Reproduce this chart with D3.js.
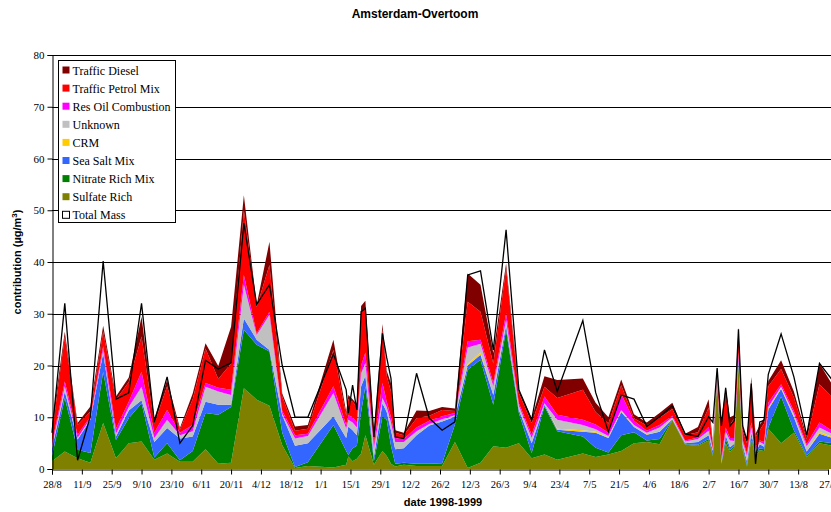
<!DOCTYPE html>
<html>
<head>
<meta charset="utf-8">
<script src="https://cdn.jsdelivr.net/npm/d3@7"></script>
<style>
  body { margin: 0; background: #fff; }
  svg { display: block; }
</style>
</head>
<body>
<svg id="chart" width="831" height="512"></svg>
<script>
// sample dates (Amsterdam-Overtoom, 1998-1999)
const dates = [
  "1998-08-28","1998-09-03","1998-09-09","1998-09-15","1998-09-21","1998-09-27","1998-10-03","1998-10-09",
  "1998-10-15","1998-10-21","1998-10-27","1998-11-02","1998-11-08","1998-11-14","1998-11-20","1998-11-26",
  "1998-12-02","1998-12-08","1998-12-14","1998-12-20","1998-12-26",
  "1999-01-07","1999-01-13","1999-01-14","1999-01-16","1999-01-18","1999-01-20","1999-01-22","1999-01-26","1999-01-30",
  "1999-02-01","1999-02-03","1999-02-05","1999-02-09","1999-02-15","1999-02-21","1999-02-27",
  "1999-03-05","1999-03-11","1999-03-17","1999-03-23","1999-03-29",
  "1999-04-04","1999-04-10","1999-04-16","1999-04-22",
  "1999-05-04","1999-05-10","1999-05-16","1999-05-22","1999-05-28",
  "1999-06-03","1999-06-09","1999-06-15","1999-06-21","1999-06-27",
  "1999-07-02","1999-07-04","1999-07-06","1999-07-08","1999-07-10","1999-07-12","1999-07-14","1999-07-16",
  "1999-07-18","1999-07-20","1999-07-22","1999-07-24","1999-07-26","1999-07-28","1999-07-30",
  "1999-08-05","1999-08-11","1999-08-17","1999-08-23","1999-08-29"
];

// source contributions, µg/m3
const sulfateRich = [
  1.5, 3.4, 2.1, 1.2, 8.9, 2.1, 5.0, 5.3, 1.8, 3.0, 1.4, 1.4, 3.8, 1.0, 1.2, 15.6, 13.4, 12.2, 4.6, 0.2, 0.6,
  0.3, 0.8, 2.4, 1.5, 2.0, 3.0, 6.5, 0.8, 3.5,
  2.5, 1.0, 0.5, 0.8, 0.6, 0.6, 0.6,
  5.2, 0.2, 1.2, 4.4, 4.1,
  5.0, 2.1, 2.8, 1.8,
  3.0, 2.3, 2.8, 3.5, 5.0,
  5.2, 4.8, 9.4, 4.7, 4.5,
  5.5, 2.5, 17.0, 1.0, 5.0, 3.3, 4.2, 20.0, 3.6, 0.5, 5.6, 2.5, 3.6, 3.5, 7.8,
  5.0, 7.0, 2.3, 5.0, 4.5
];
const nitrateRich = [
  1.0, 10.3, 1.6, 1.9, 9.9, 3.5, 4.8, 7.4, 0.4, 2.0, 0.3, 2.1, 7.0, 9.5, 10.8, 11.3, 10.6, 10.5, 2.4, 0.2, 0.7,
  8.2, 2.7, 0.3, 2.5, 2.5, 8.0, 9.5, 0.7, 6.6,
  7.0, 3.5, 0.5, 0.4, 0.4, 0.4, 0.5,
  3.4, 19.0, 19.9, 8.0, 22.8,
  5.8, 1.0, 9.3, 5.5,
  3.3, 1.8, 0.4, 3.0, 2.1,
  0.3, 1.0, 0.1, 0.1, 0.2,
  0.3, 0.3, 0.2, 0.1, 0.8, 0.3, 0.3, 0.3, 0.4, 0.3, 0.6, 0.3, 0.4, 0.3, 0.2,
  9.0, 0.5, 0.3, 0.3, 0.5
];
const seaSalt = [
  1.5, 1.3, 2.0, 6.4, 3.6, 0.7, 1.5, 0.6, 3.0, 2.9, 4.2, 2.8, 2.2, 1.9, 0.4, 2.2, 1.0, 0.3, 3.4, 4.1, 3.7,
  1.7, 2.5, 5.5, 3.5, 2.0, 5.0, 2.0, 0.8, 2.6,
  1.5, 3.0, 2.8, 2.8, 5.5, 7.4, 8.1,
  1.5, 0.8, 1.0, 1.9, 0.9,
  0.6, 1.9, 0.3, 0.3,
  0.9, 2.9, 2.8, 4.5, 1.0,
  1.1, 1.4, 0.1, 0.2, 0.5,
  0.7, 0.7, 0.3, 0.2, 0.7, 0.6, 0.4, 0.7, 0.6, 0.7, 0.8, 0.5, 0.8, 0.5, 3.5,
  1.5, 2.5, 0.8, 1.5, 1.0
];
const crm = [
  0, 0, 0, 0, 0, 0, 0, 0, 0, 0, 0, 0, 0, 0, 0, 0, 0, 0, 0, 0, 0,
  0, 0, 0, 0, 0, 0, 0, 0, 0,
  0, 0, 0, 0, 0, 0, 0,
  0, 0.3, 0.4, 0, 0,
  0, 0, 0, 0.2,
  0.3, 0.2, 0.1, 0.2, 0,
  0.1, 0, 0.1, 0, 0,
  0, 0, 0, 0, 0, 0, 0, 0, 0, 0, 0, 0, 0, 0, 0.3,
  0.2, 0.2, 0, 0.4, 0.2
];
const unknown = [
  0.5, 1.0, 0.3, 0.3, 0.6, 0.5, 0.7, 2.6, 0.8, 1.6, 0.6, 1.0, 2.9, 2.6, 1.9, 6.5, 0.9, 6.8, 0.3, 1.4, 1.4,
  4.5, 1.8, 1.3, 1.5, 1.5, 2.5, 2.5, 1.7, 1.0,
  1.0, 1.5, 1.4, 1.2, 0.8, 0.3, 0.4,
  0.3, 3.2, 1.7, 1.7, 1.0,
  0.8, 1.0, 0.3, 1.7,
  1.0, 0.5, 0.3, 0.2, 0.4,
  0.3, 0.8, 0.3, 0.3, 0.6,
  0.9, 0.3, 0.5, 0.2, 0.7, 1.3, 0.5, 0.5, 0.6, 1.0, 1.0, 0.5, 0.4, 0.5, 0.2,
  0.2, 0.5, 1.0, 0.8, 0.6
];
const resOil = [
  0.5, 0.9, 0.6, 0.3, 0.7, 1.0, 1.0, 2.9, 1.0, 1.9, 0.5, 1.2, 0.7, 0.7, 1.0, 1.9, 0.3, 0.6, 0.5, 0.6, 0.4,
  1.3, 0.7, 0.9, 1.0, 1.0, 1.5, 2.0, 0.8, 2.9,
  1.0, 1.0, 0.8, 0.6, 0.7, 0.6, 0.6,
  0.4, 1.2, 0.8, 0.6, 1.3,
  0.5, 0.6, 1.3, 1.0,
  1.0, 0.9, 0.6, 3.1, 0.8,
  0.4, 0.5, 0.3, 0.2, 0.3,
  0.7, 0.2, 0.5, 0.5, 0.8, 0.5, 0.6, 1.0, 0.4, 0.5, 1.0, 0.4, 0.3, 0.4, 0.8,
  0.5, 0.5, 0.4, 1.0, 0.6
];
const petrol = [
  2.0, 8.7, 1.9, 1.0, 2.9, 5.6, 3.8, 6.8, 1.8, 4.6, 0.6, 5.0, 6.7, 1.7, 5.1, 12.5, 5.1, 9.0, 2.8, 0.9, 1.0,
  7.0, 1.8, 3.1, 3.0, 3.0, 10.5, 8.5, 1.2, 10.4,
  5.0, 5.0, 1.0, 0.7, 1.8, 1.0, 1.2,
  0.4, 7.6, 5.4, 3.8, 8.7,
  2.0, 2.3, 1.9, 3.2,
  5.8, 2.4, 1.8, 1.7, 0.5,
  1.0, 1.4, 1.3, 1.0, 1.0,
  3.8, 0.5, 0.5, 6.8, 7.0, 2.5, 3.8, 4.3, 1.8, 2.0, 7.8, 2.1, 2.0, 3.6, 3.2,
  2.9, 2.6, 1.0, 7.4, 6.4
];
const diesel = [
  1.5, 0.9, 0.4, 1.0, 1.1, 0.6, 0.9, 3.8, 1.0, 1.2, 0.3, 1.1, 1.0, 2.5, 7.1, 2.9, 0.4, 4.5, 0.6, 0.8, 0.7,
  2.0, 0.7, 0.8, 0.5, 0.5, 1.0, 1.5, 0.5, 1.0,
  1.0, 1.5, 0.5, 0.5, 1.5, 0.9, 0.6,
  0.5, 5.5, 5.2, 2.0, 0.9,
  0.6, 0.9, 2.0, 3.5,
  2.2, 1.8, 1.2, 1.1, 0.8,
  0.6, 0.9, 1.2, 0.3, 1.0,
  1.6, 0.5, 0.5, 0.7, 0.8, 1.5, 0.6, 0.6, 0.6, 0.5, 1.0, 0.5, 1.0, 1.0, 1.0,
  1.7, 1.2, 0.5, 4.0, 2.5
];
const totalMass = [
  7, 32, 1.7, 10.2, 40.2, 13.5, 14.7, 32, 9, 17.8, 5, 8.4, 21, 19.3, 20.5, 47.5, 31.8, 35.6, 20, 10, 10,
  22.2, 15.3, 10.8, 16.2, 11.4, 30.4, 31, 6.2, 26.2,
  21.5, 17.5, 6.2, 5.9, 18.5, 9.8, 7.5,
  9.1, 37.5, 38.3, 23, 46.2,
  15.3, 9.5, 23, 15,
  28.7, 14.8, 7.2, 14.3, 13.5,
  8.2, 10.1, 12.2, 6.8, 6.3,
  10.1, 9.0, 19.5, 8.3, 15.7, 8.3, 9.3, 27, 8.3, 5.5, 16.5, 1.0, 9.1, 9.4, 18.3,
  26.1, 17.8, 6.5, 20.4, 17.2
];

// stack order, bottom to top
const seriesKeys = ["sulfate", "nitrate", "seasalt", "crm", "unknown", "resoil", "petrol", "diesel"];
const seriesNames = {
  sulfate: "Sulfate Rich", nitrate: "Nitrate Rich Mix", seasalt: "Sea Salt Mix", crm: "CRM",
  unknown: "Unknown", resoil: "Res Oil Combustion", petrol: "Traffic Petrol Mix", diesel: "Traffic Diesel"
};
const seriesColors = {
  sulfate: "#808000", nitrate: "#008000", seasalt: "#3366ff", crm: "#ffcc00",
  unknown: "#c0c0c0", resoil: "#ff00ff", petrol: "#ff0000", diesel: "#800000"
};
const xTickLabels = ["28/8","11/9","25/9","9/10","23/10","6/11","20/11","4/12","18/12","1/1","15/1","29/1","12/2",
  "26/2","12/3","26/3","9/4","23/4","7/5","21/5","4/6","18/6","2/7","16/7","30/7","13/8","27/8"];
const yTicks = [0, 10, 20, 30, 40, 50, 60, 70, 80];

const parse = d3.timeParse("%Y-%m-%d");
const table = dates.map((d, i) => ({
  date: parse(d),
  sulfate: sulfateRich[i], nitrate: nitrateRich[i], seasalt: seaSalt[i], crm: crm[i],
  unknown: unknown[i], resoil: resOil[i], petrol: petrol[i], diesel: diesel[i],
  total: totalMass[i]
}));

const svg = d3.select("#chart");
const start = parse("1998-08-28");
const tickDates = xTickLabels.map((t, i) => d3.timeDay.offset(start, 14 * i));

const x = d3.scaleTime().domain([start, tickDates[tickDates.length - 1]]).range([52, 828]);
const y = d3.scaleLinear().domain([0, 80]).range([469, 55]);

// gridlines
svg.append("g")
  .selectAll("line")
  .data(yTicks.filter(v => v > 0))
  .join("line")
  .attr("x1", 52).attr("x2", 831)
  .attr("y1", d => Math.round(y(d)) + 0.5).attr("y2", d => Math.round(y(d)) + 0.5)
  .attr("stroke", "#000").attr("stroke-width", 1);

// stacked areas
const stack = d3.stack().keys(seriesKeys);
const layers = stack(table);
const area = d3.area()
  .x(d => x(d.data.date))
  .y0(d => y(d[0]))
  .y1(d => y(d[1]));

svg.append("g")
  .selectAll("path")
  .data(layers)
  .join("path")
  .attr("fill", d => seriesColors[d.key])
  .attr("d", area);

// total mass line
const line = d3.line()
  .x(d => x(d.date))
  .y(d => y(d.total));

svg.append("path")
  .datum(table)
  .attr("fill", "none")
  .attr("stroke", "#000")
  .attr("stroke-width", 1.3)
  .attr("stroke-linejoin", "miter")
  .attr("d", line);

// axes
const yAxis = svg.append("g")
  .attr("transform", "translate(52.5,0)")
  .call(d3.axisLeft(y).tickValues(yTicks).tickSize(5).tickPadding(3));
const xAxis = svg.append("g")
  .attr("transform", "translate(0,469.5)")
  .call(d3.axisBottom(x).tickValues(tickDates).tickSize(5).tickPadding(6)
    .tickFormat((d, i) => xTickLabels[i]));

[yAxis, xAxis].forEach(a => {
  a.select(".domain").attr("stroke", "#000");
  a.selectAll(".tick line").attr("stroke", "#000");
  a.selectAll("text")
    .attr("fill", "#000")
    .style("font-family", "'Liberation Serif', 'Times New Roman', serif")
    .style("font-size", "11px");
});
xAxis.selectAll("text").style("font-size", "10.5px");

// titles
svg.append("text")
  .attr("x", 415).attr("y", 18)
  .attr("text-anchor", "middle")
  .style("font-family", "'Liberation Sans', Arial, sans-serif")
  .style("font-weight", "bold").style("font-size", "12px")
  .text("Amsterdam-Overtoom");

svg.append("text")
  .attr("x", 443).attr("y", 506)
  .attr("text-anchor", "middle")
  .style("font-family", "'Liberation Sans', Arial, sans-serif")
  .style("font-weight", "bold").style("font-size", "11px")
  .text("date 1998-1999");

const yLabel = svg.append("text")
  .attr("transform", "translate(21,262) rotate(-90)")
  .attr("text-anchor", "middle")
  .style("font-family", "'Liberation Sans', Arial, sans-serif")
  .style("font-weight", "bold").style("font-size", "11px");
yLabel.append("tspan").text("contribution (µg/m");
yLabel.append("tspan").attr("dy", -4).style("font-size", "8px").text("3");
yLabel.append("tspan").attr("dy", 4).text(")");

// legend
const legendItems = seriesKeys.slice().reverse().map(k => ({ name: seriesNames[k], color: seriesColors[k] }));
legendItems.push({ name: "Total Mass", color: "#fff", outline: true });

const legend = svg.append("g").attr("transform", "translate(58.5,60.5)");
legend.append("rect")
  .attr("width", 117).attr("height", 162)
  .attr("fill", "#fff").attr("stroke", "#000");

const entry = legend.selectAll("g.entry")
  .data(legendItems)
  .join("g")
  .attr("class", "entry")
  .attr("transform", (d, i) => `translate(4,${10 + i * 18.1})`);

entry.append("rect")
  .attr("x", 0).attr("y", -4)
  .attr("width", 7).attr("height", 7)
  .attr("fill", d => d.color)
  .attr("stroke", d => d.outline ? "#000" : "none");

entry.append("text")
  .attr("x", 10).attr("y", 4)
  .style("font-family", "'Liberation Serif', 'Times New Roman', serif")
  .style("font-size", "12px")
  .text(d => d.name);
</script>
</body>
</html>
